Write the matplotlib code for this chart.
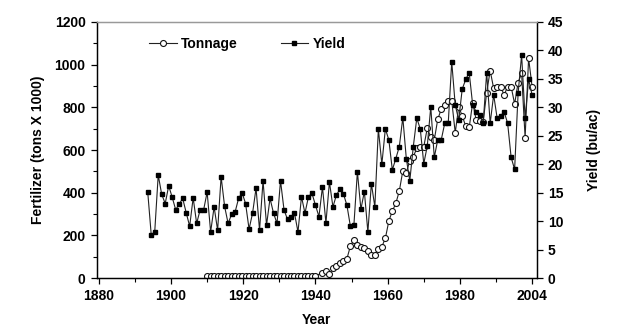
import numpy as np
import matplotlib
matplotlib.use("Agg")
import matplotlib.pyplot as plt
from matplotlib.ticker import MultipleLocator

plt.rcParams['font.family'] = ['Liberation Sans', 'DejaVu Sans']
plt.rcParams['font.weight'] = 'bold'

# yield, bu/ac, 1894-2004
yield_years = list(range(1894, 2005))
yield_bu = [15.1, 7.6, 8.1, 18.1, 14.7, 13.1, 16.2, 14.2, 12.0, 13.0,
            14.0, 11.5, 9.1, 14.1, 9.6, 12.0, 12.0, 15.1, 8.1, 12.5,
            8.4, 17.8, 12.6, 9.6, 11.2, 11.6, 14.0, 15.0, 13.1, 8.6,
            11.4, 15.8, 8.4, 17.1, 9.3, 14.0, 11.4, 9.6, 17.1, 12.0,
            10.3, 10.7, 11.4, 8.1, 14.3, 11.4, 14.3, 14.9, 12.8, 10.8,
            16.0, 9.7, 16.9, 12.5, 14.6, 15.6, 14.8, 12.8, 9.1, 9.3,
            18.7, 12.1, 15.2, 8.1, 16.6, 12.5, 26.2, 20.0, 26.2, 24.3,
            19.0, 21.0, 23.1, 28.2, 21.0, 17.1, 23.1, 28.1, 26.2, 20.1,
            23.2, 30.1, 21.2, 24.3, 24.3, 27.2, 27.2, 38.0, 30.4, 27.8,
            33.2, 34.9, 36.1, 30.4, 29.2, 28.6, 27.2, 36.1, 27.2, 32.2,
            28.1, 28.5, 29.2, 27.2, 21.2, 19.1, 32.5, 39.2, 28.1, 34.9,
            32.2]

# fertilizer tonnage (tons x 1000)
ton_years = list(range(1911, 1943)) + list(range(1944, 2005))
tonnage = [10] * 32 + [
    25, 35, 20, 45, 55, 70, 80, 90, 150, 178,
    155, 144, 139, 128, 108, 108, 134, 147, 186, 267,
    314, 350, 408, 502, 494, 550, 569, 608, 616, 616,
    702, 660, 647, 744, 791, 810, 831, 831, 681, 803,
    760, 712, 706, 822, 741, 737, 733, 869, 972, 889,
    897, 897, 858, 897, 897, 816, 916, 960, 658, 1030,
    897]

xtick_pos = np.linspace(1880, 2004, 7)
xtick_labels = ['1880', '1900', '1920', '1940', '1960', '1980', '2004']

fig = plt.figure(figsize=(6.24, 3.33), dpi=100)
ax = fig.add_axes([0.155, 0.165, 0.705, 0.769])
ax2 = ax.twinx()

l1, = ax.plot(ton_years, tonnage, color='#222222', lw=0.8, marker='o',
              ms=4.3, mfc='white', mec='#111111', mew=0.8, label='Tonnage')
l2, = ax2.plot(yield_years, yield_bu, color='#222222', lw=0.8, marker='s',
               ms=2.6, mfc='black', mec='black', label='Yield')

ax.set_xlim(1879.4, 2005.3)
ax.set_ylim(0, 1200)
ax2.set_ylim(0, 45)

ax.set_xticks(xtick_pos)
ax.set_xticklabels(xtick_labels)
ax.set_xticks((xtick_pos[:-1] + xtick_pos[1:]) / 2, minor=True)
ax.yaxis.set_major_locator(MultipleLocator(200))
ax.yaxis.set_minor_locator(MultipleLocator(100))
ax2.yaxis.set_major_locator(MultipleLocator(5))

for a in (ax, ax2):
    a.tick_params(which='major', direction='out', length=4, width=0.9,
                  labelsize=10, pad=4)
    a.tick_params(which='minor', direction='out', length=3, width=0.8)
    for s in a.spines.values():
        s.set_linewidth(0.9)
    a.spines['top'].set_color('#999999')

ax.set_xlabel('Year', fontsize=10, fontweight='bold', labelpad=7)
ax.set_ylabel('Fertilizer (tons X 1000)', fontsize=10, fontweight='bold',
              labelpad=7)
ax2.set_ylabel('Yield (bu/ac)', fontsize=10, fontweight='bold', labelpad=17)

ax2.legend([l1, l2], ['Tonnage', 'Yield'], ncol=2, frameon=False,
           loc='upper left', bbox_to_anchor=(0.09, 0.99),
           handlelength=2.0, handletextpad=0.3, columnspacing=3.1,
           prop={'weight': 'bold', 'size': 10})

fig.savefig('out.png', dpi=100)
